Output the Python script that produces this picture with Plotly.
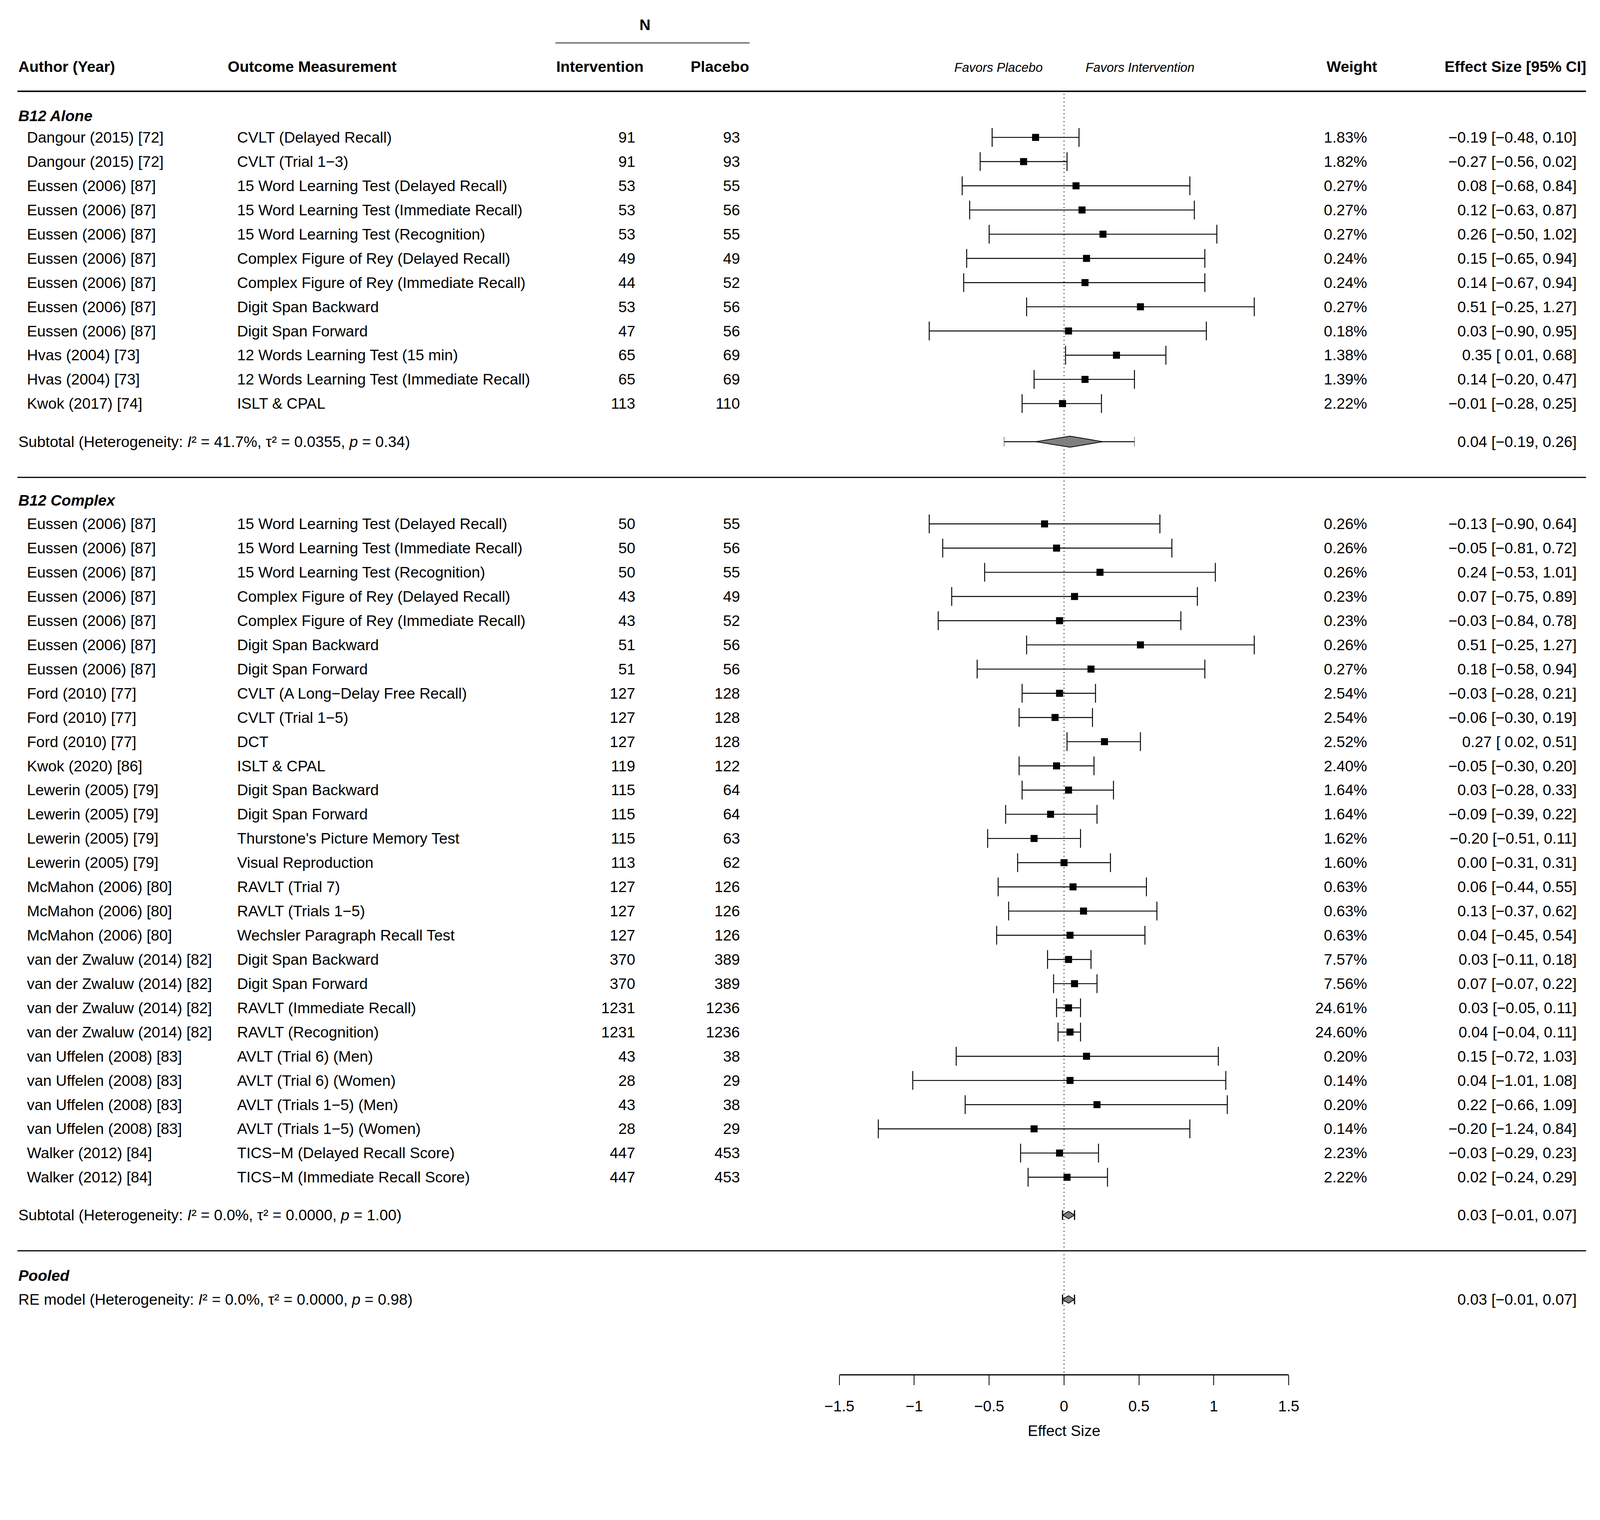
import plotly.graph_objects as go

W, H = 4299, 3890
FONT = "Liberation Sans, Arial, Helvetica, sans-serif"
FS = 39.1
FS_SMALL = 32.6

# ---------------- data ----------------
alone_author = ["Dangour (2015) [72]", "Dangour (2015) [72]", "Eussen (2006) [87]", "Eussen (2006) [87]",
                "Eussen (2006) [87]", "Eussen (2006) [87]", "Eussen (2006) [87]", "Eussen (2006) [87]",
                "Eussen (2006) [87]", "Hvas (2004) [73]", "Hvas (2004) [73]", "Kwok (2017) [74]"]
alone_outcome = ["CVLT (Delayed Recall)", "CVLT (Trial 1\u22123)", "15 Word Learning Test (Delayed Recall)",
                 "15 Word Learning Test (Immediate Recall)", "15 Word Learning Test (Recognition)",
                 "Complex Figure of Rey (Delayed Recall)", "Complex Figure of Rey (Immediate Recall)",
                 "Digit Span Backward", "Digit Span Forward", "12 Words Learning Test (15 min)",
                 "12 Words Learning Test (Immediate Recall)", "ISLT & CPAL"]
alone_n_int = [91, 91, 53, 53, 53, 49, 44, 53, 47, 65, 65, 113]
alone_n_pla = [93, 93, 55, 56, 55, 49, 52, 56, 56, 69, 69, 110]
alone_weight = [1.83, 1.82, 0.27, 0.27, 0.27, 0.24, 0.24, 0.27, 0.18, 1.38, 1.39, 2.22]
alone_es = [-0.19, -0.27, 0.08, 0.12, 0.26, 0.15, 0.14, 0.51, 0.03, 0.35, 0.14, -0.01]
alone_lo = [-0.48, -0.56, -0.68, -0.63, -0.50, -0.65, -0.67, -0.25, -0.90, 0.01, -0.20, -0.28]
alone_hi = [0.10, 0.02, 0.84, 0.87, 1.02, 0.94, 0.94, 1.27, 0.95, 0.68, 0.47, 0.25]

complex_author = ["Eussen (2006) [87]"] * 7 + ["Ford (2010) [77]"] * 3 + ["Kwok (2020) [86]"] + \
                 ["Lewerin (2005) [79]"] * 4 + ["McMahon (2006) [80]"] * 3 + \
                 ["van der Zwaluw (2014) [82]"] * 4 + ["van Uffelen (2008) [83]"] * 4 + ["Walker (2012) [84]"] * 2
complex_outcome = ["15 Word Learning Test (Delayed Recall)", "15 Word Learning Test (Immediate Recall)",
                   "15 Word Learning Test (Recognition)", "Complex Figure of Rey (Delayed Recall)",
                   "Complex Figure of Rey (Immediate Recall)", "Digit Span Backward", "Digit Span Forward",
                   "CVLT (A Long\u2212Delay Free Recall)", "CVLT (Trial 1\u22125)", "DCT", "ISLT & CPAL",
                   "Digit Span Backward", "Digit Span Forward", "Thurstone's Picture Memory Test",
                   "Visual Reproduction", "RAVLT (Trial 7)", "RAVLT (Trials 1\u22125)",
                   "Wechsler Paragraph Recall Test", "Digit Span Backward", "Digit Span Forward",
                   "RAVLT (Immediate Recall)", "RAVLT (Recognition)", "AVLT (Trial 6) (Men)",
                   "AVLT (Trial 6) (Women)", "AVLT (Trials 1\u22125) (Men)", "AVLT (Trials 1\u22125) (Women)",
                   "TICS\u2212M (Delayed Recall Score)", "TICS\u2212M (Immediate Recall Score)"]
complex_n_int = [50, 50, 50, 43, 43, 51, 51, 127, 127, 127, 119, 115, 115, 115, 113, 127, 127, 127,
                 370, 370, 1231, 1231, 43, 28, 43, 28, 447, 447]
complex_n_pla = [55, 56, 55, 49, 52, 56, 56, 128, 128, 128, 122, 64, 64, 63, 62, 126, 126, 126,
                 389, 389, 1236, 1236, 38, 29, 38, 29, 453, 453]
complex_weight = [0.26, 0.26, 0.26, 0.23, 0.23, 0.26, 0.27, 2.54, 2.54, 2.52, 2.40, 1.64, 1.64, 1.62,
                  1.60, 0.63, 0.63, 0.63, 7.57, 7.56, 24.61, 24.60, 0.20, 0.14, 0.20, 0.14, 2.23, 2.22]
complex_es = [-0.13, -0.05, 0.24, 0.07, -0.03, 0.51, 0.18, -0.03, -0.06, 0.27, -0.05, 0.03, -0.09, -0.20,
              0.00, 0.06, 0.13, 0.04, 0.03, 0.07, 0.03, 0.04, 0.15, 0.04, 0.22, -0.20, -0.03, 0.02]
complex_lo = [-0.90, -0.81, -0.53, -0.75, -0.84, -0.25, -0.58, -0.28, -0.30, 0.02, -0.30, -0.28, -0.39,
              -0.51, -0.31, -0.44, -0.37, -0.45, -0.11, -0.07, -0.05, -0.04, -0.72, -1.01, -0.66, -1.24,
              -0.29, -0.24]
complex_hi = [0.64, 0.72, 1.01, 0.89, 0.78, 1.27, 0.94, 0.21, 0.19, 0.51, 0.20, 0.33, 0.22, 0.11, 0.31,
              0.55, 0.62, 0.54, 0.18, 0.22, 0.11, 0.11, 1.03, 1.08, 1.09, 0.84, 0.23, 0.29]

# summaries: estimate, CI low, CI high, prediction low, prediction high
sub_alone = dict(es=0.04, lo=-0.19, hi=0.26, pi_lo=-0.40, pi_hi=0.47)
sub_complex = dict(es=0.03, lo=-0.01, hi=0.07, pi_lo=-0.01, pi_hi=0.07)
pooled = dict(es=0.03, lo=-0.01, hi=0.07, pi_lo=-0.01, pi_hi=0.07)
het_alone = ("41.7%", "0.0355", "0.34")
het_complex = ("0.0%", "0.0000", "1.00")
het_pooled = ("0.0%", "0.0000", "0.98")

tick_vals = [-1.5, -1, -0.5, 0, 0.5, 1, 1.5]
tick_text = ["\u22121.5", "\u22121", "\u22120.5", "0", "0.5", "1", "1.5"]

# ---------------- layout helpers (target-pixel space -> page space) ----------------
SX, OX = 0.9687, -48.9
SY, OY = 0.952, -8.6


def X(o):
    return SX * o + OX


def Y(o):
    return SY * o + OY


ROW = 65.05
alone_y = [Y(370 + ROW * i) for i in range(len(alone_es))]
sub_alone_y = Y(1188)
sep1_y = Y(1284)
complex_label_y = Y(1346)
complex_y = [Y(1409 + ROW * i) for i in range(len(complex_es))]
sub_complex_y = Y(3267)
sep2_y = Y(3363)
pooled_label_y = Y(3430)
pooled_y = Y(3494)

X_AUTH, X_OUT, X_NI, X_NP, X_W, X_ES = 71, 635, 1708, 1989, 3673, 4235

annotations = []


def txt(x, y, s, anchor="left", size=FS, bold=False, italic=False):
    if italic:
        s = f"<i>{s}</i>"
    if bold:
        s = f"<b>{s}</b>"
    annotations.append(dict(x=X(x) / W, y=y, xref="paper", yref="y", text=s, showarrow=False,
                            xanchor=anchor, yanchor="middle",
                            font=dict(family=FONT, size=size, color="black")))


def ital(s, size=FS):
    return f'<span style="font-style:italic;font-size:{size}px">{s}</span>'


def fmt(v):
    return f"{v:.2f}".replace("-", "\u2212")


def es_text(e, l, h):
    ls = fmt(l) if l < 0 else " " + fmt(l)
    return f"{fmt(e)} [{ls}, {fmt(h)}]"


fig = go.Figure()

# ---------------- headers ----------------
txt(1732, Y(67), "N", anchor="center", bold=True)
txt(48, Y(180), "Author (Year)", bold=True)
txt(610, Y(180), "Outcome Measurement", bold=True)
txt(1731, Y(180), "Intervention", anchor="right", bold=True)
txt(2014, Y(180), "Placebo", anchor="right", bold=True)
txt(2801, Y(182), "Favors Placebo", anchor="right", size=FS_SMALL, italic=True)
txt(2913, Y(182), "Favors Intervention", anchor="left", size=FS_SMALL, italic=True)
txt(3630, Y(180), "Weight", anchor="center", bold=True)
txt(4261, Y(180), "Effect Size [95% CI]", anchor="right", bold=True)

shapes = [
    dict(type="line", xref="paper", yref="y", x0=X(1492) / W, x1=X(2013) / W, y0=Y(116), y1=Y(116),
         line=dict(color="#333333", width=2.4)),
    dict(type="line", xref="paper", yref="y", x0=X(48) / W, x1=X(4258) / W, y0=Y(246), y1=Y(246),
         line=dict(color="black", width=3.8)),
    dict(type="line", xref="paper", yref="y", x0=X(48) / W, x1=X(4258) / W, y0=sep1_y, y1=sep1_y,
         line=dict(color="black", width=2.9)),
    dict(type="line", xref="paper", yref="y", x0=X(48) / W, x1=X(4258) / W, y0=sep2_y, y1=sep2_y,
         line=dict(color="black", width=2.9)),
    dict(type="line", xref="x", yref="y", x0=0, x1=0, y0=Y(253), y1=Y(3692), layer="below",
         line=dict(color="black", width=2.4, dash="2px,8px")),
]


def study_rows(authors, outcomes, ni, npl, wts, es, lo, hi, ys):
    for a, o, n1, n2, w, e, l, h, y in zip(authors, outcomes, ni, npl, wts, es, lo, hi, ys):
        txt(X_AUTH, y, a)
        txt(X_OUT, y, o)
        txt(X_NI, y, str(n1), anchor="right")
        txt(X_NP, y, str(n2), anchor="right")
        txt(X_W, y, f"{w:.2f}%", anchor="right")
        txt(X_ES, y, es_text(e, l, h), anchor="right")
    fig.add_trace(go.Scatter(
        x=es, y=ys, mode="markers",
        marker=dict(symbol="square", size=18, color="black", line=dict(width=0)),
        error_x=dict(type="data", symmetric=False,
                     array=[h - e for e, h in zip(es, hi)],
                     arrayminus=[e - l for e, l in zip(es, lo)],
                     width=24, thickness=2.4, color="black"),
        hoverinfo="skip"))


def summary(s, y, half_h, cap_color, cap_w, label, het):
    # prediction interval whiskers
    fig.add_trace(go.Scatter(
        x=[s["es"]], y=[y], mode="markers", marker=dict(size=1, color="rgba(0,0,0,0)"),
        error_x=dict(type="data", symmetric=False, array=[s["pi_hi"] - s["es"]],
                     arrayminus=[s["es"] - s["pi_lo"]], width=12.5, thickness=cap_w, color=cap_color),
        hoverinfo="skip"))
    fig.add_trace(go.Scatter(
        x=[s["pi_lo"], s["pi_hi"]], y=[y, y], mode="lines",
        line=dict(color="black", width=2.4), hoverinfo="skip"))
    fig.add_trace(go.Scatter(
        x=[s["lo"], s["es"], s["hi"], s["es"], s["lo"]],
        y=[y, y - half_h, y, y + half_h, y],
        mode="lines", fill="toself", fillcolor="#808080",
        line=dict(color="black", width=2), hoverinfo="skip"))
    i2, t2, p = het
    txt(48, y, f"{label} (Heterogeneity: {ital('I')}\u00b2 = {i2}, \u03c4\u00b2 = {t2}, "
                f"{ital('p')} = {p})")
    txt(X_ES, y, es_text(s["es"], s["lo"], s["hi"]), anchor="right")


txt(48, Y(312), "B12 Alone", bold=True, italic=True)
study_rows(alone_author, alone_outcome, alone_n_int, alone_n_pla, alone_weight,
           alone_es, alone_lo, alone_hi, alone_y)
summary(sub_alone, sub_alone_y, 14, "#888888", 2, "Subtotal", het_alone)

txt(48, complex_label_y, "B12 Complex", bold=True, italic=True)
study_rows(complex_author, complex_outcome, complex_n_int, complex_n_pla, complex_weight,
           complex_es, complex_lo, complex_hi, complex_y)
summary(sub_complex, sub_complex_y, 9.5, "black", 3, "Subtotal", het_complex)

txt(48, pooled_label_y, "Pooled", bold=True, italic=True)
summary(pooled, pooled_y, 9.5, "black", 3, "RE model", het_pooled)

fig.update_layout(
    width=W, height=H, autosize=False,
    margin=dict(l=0, r=0, t=0, b=0),
    paper_bgcolor="white", plot_bgcolor="white",
    showlegend=False,
    font=dict(family=FONT, size=FS, color="black"),
    annotations=annotations, shapes=shapes,
    xaxis=dict(domain=[X(2254) / W, X(3460) / W], range=[-1.5, 1.5], anchor="free",
               position=1 - Y(3696) / H, showline=True, linecolor="black", linewidth=2.9,
               ticks="outside", ticklen=25, tickwidth=2, tickcolor="black",
               tickvals=tick_vals, ticktext=tick_text, ticklabelstandoff=20,
               tickfont=dict(family=FONT, size=FS, color="black"),
               title=dict(text="Effect Size", standoff=28,
                          font=dict(family=FONT, size=FS, color="black")),
               showgrid=False, zeroline=False, fixedrange=True),
    yaxis=dict(domain=[0, 1], range=[H, 0], visible=False, showgrid=False,
               zeroline=False, fixedrange=True),
)

fig.write_html("out.html")
